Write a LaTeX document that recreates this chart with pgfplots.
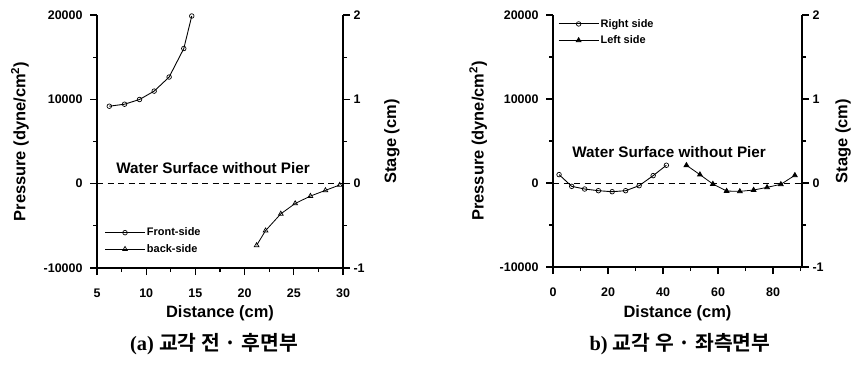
\documentclass[border=0pt]{standalone}
\usepackage{pgfplots}
\pgfplotsset{compat=1.18}
\usepackage{fontspec}
\setmainfont{Liberation Sans}
\newfontfamily\krfont{Noto Sans CJK KR}[BoldFont={Noto Sans CJK KR Bold}]
\newfontfamily\serifb{Liberation Serif}
\pgfplotsset{
  common/.style={
    scale only axis,
    axis line style={line width=1.5pt},
    tick style={line width=1.3pt, black},
    major tick length=7bp,
    minor tick length=4bp,
    tick align=outside,
    scaled ticks=false,
    /pgf/number format/assume math mode=true,
    /pgf/number format/1000 sep={},
    tick label style={font=\bfseries\fontsize{12.5}{14}\selectfont},
    label style={font=\bfseries\fontsize{16.5}{18}\selectfont},
    legend style={draw=none, fill=none, font=\bfseries\fontsize{11}{12}\selectfont, row sep=4bp, inner sep=0pt,
      nodes={inner sep=1.5bp}},
    legend cell align=left,
    legend image code/.code={\draw[mark repeat=2,mark phase=2,#1] plot coordinates {(0bp,0bp)(20bp,0bp)(40bp,0bp)};},
  },
  primary/.style={common, axis y line*=left, axis x line*=bottom,
    ymin=-10000, ymax=20000, ytick={-10000,0,10000,20000}, minor y tick num=1,
    xticklabel style={yshift=-10bp}, yticklabel style={xshift=-4bp},
    ylabel={Pressure (dyne/cm\textsuperscript{2})}, xlabel={Distance (cm)}},
  secondary/.style={common, axis y line*=right, axis x line=none,
    ymin=-1, ymax=2, ytick={-1,0,1,2}, minor y tick num=1, ylabel={Stage (cm)}},
}
\begin{document}
\begin{tikzpicture}[x=1bp,y=1bp]
\useasboundingbox (0,0) rectangle (852,366);
% ---------------- panel (a)
\begin{axis}[primary, at={(97bp,98bp)}, anchor=south west, width=246bp, height=253bp,
  xmin=5, xmax=30, xtick={5,10,15,20,25,30}, minor x tick num=1,
  ylabel style={at={(axis description cs:-0.313,0.5)}, anchor=center},
  xlabel style={at={(axis description cs:0.5,-0.178)}, anchor=center},
  legend style={at={(0.03,0.165)}, anchor=north west}]
\addplot[black, line width=0.9pt, mark=o, mark size=2.3bp, mark options={solid, line width=0.7pt}] coordinates {
 (6.25,9185) (7.80,9423) (9.32,9980) (10.81,10974) (12.33,12644) (13.82,16024) (14.63,19881)};
\addlegendentry{Front-side}
\addplot[black, line width=0.8pt, mark=triangle, mark size=2.7bp, mark options={solid, line width=0.7pt}] coordinates {
 (21.22,-7316) (22.13,-5567) (23.68,-3578) (25.14,-2346) (26.69,-1471) (28.21,-795) (29.66,-159)};
\addlegendentry{back-side}
\addplot[black, line width=0.9pt, dash pattern=on 6bp off 4.5bp, forget plot] coordinates {(5,0) (30,0)};
\node[font=\bfseries\fontsize{15.3}{17}\selectfont] at (axis cs:16.8,1900) {Water Surface without Pier};
\end{axis}
\begin{axis}[secondary, at={(97bp,98bp)}, anchor=south west, width=246bp, height=253bp,
  xmin=5, xmax=30,
  ylabel style={at={(axis description cs:1.199,0.5)}, anchor=center}]
\addplot[draw=none] coordinates {(5,0)};
\end{axis}
% ---------------- panel (b)
\begin{axis}[primary, at={(553bp,99bp)}, anchor=south west, width=249bp, height=252bp,
  xmin=0, xmax=90.5, xtick={0,20,40,60,80}, minor xtick={10,30,50,70,90},
  ylabel style={at={(axis description cs:-0.30,0.5)}, anchor=center},
  xlabel style={at={(axis description cs:0.5,-0.183)}, anchor=center},
  legend style={at={(0.02,0.99)}, anchor=north west}]
\addplot[black, line width=0.9pt, mark=o, mark size=2.3bp, mark options={solid, line width=0.7pt}] coordinates {
 (2.2,996) (6.8,-398) (11.5,-717) (16.5,-916) (21.5,-1036) (26.4,-916) (31.3,-319) (36.4,876) (41.2,2112)};
\addlegendentry{Right side}
\addplot[black, line width=0.8pt, mark=triangle*, mark size=2.7bp, mark options={solid}] coordinates {
 (48.5,2112) (53.4,996) (58.1,-120) (63.1,-956) (67.9,-996) (72.9,-837) (77.8,-518) (82.8,-159) (87.9,916)};
\addlegendentry{Left side}
\addplot[black, line width=0.9pt, dash pattern=on 6bp off 4.5bp, forget plot] coordinates {(0,0) (90.5,0)};
\node[font=\bfseries\fontsize{15.3}{17}\selectfont] at (axis cs:42.2,3690) {Water Surface without Pier};
\end{axis}
\begin{axis}[secondary, at={(553bp,99bp)}, anchor=south west, width=249bp, height=252bp,
  xmin=0, xmax=90.5,
  ylabel style={at={(axis description cs:1.165,0.5)}, anchor=center}]
\addplot[draw=none] coordinates {(0,0)};
\end{axis}
% captions
\node[font=\fontsize{20.5}{22}\selectfont] at (214,22) {\serifb\bfseries (a) \krfont\bfseries 교각 전 · 후면부};
\node[font=\fontsize{20.5}{22}\selectfont] at (680,22) {\serifb\bfseries b) \krfont\bfseries 교각 우 · 좌측면부};
\end{tikzpicture}
\end{document}
